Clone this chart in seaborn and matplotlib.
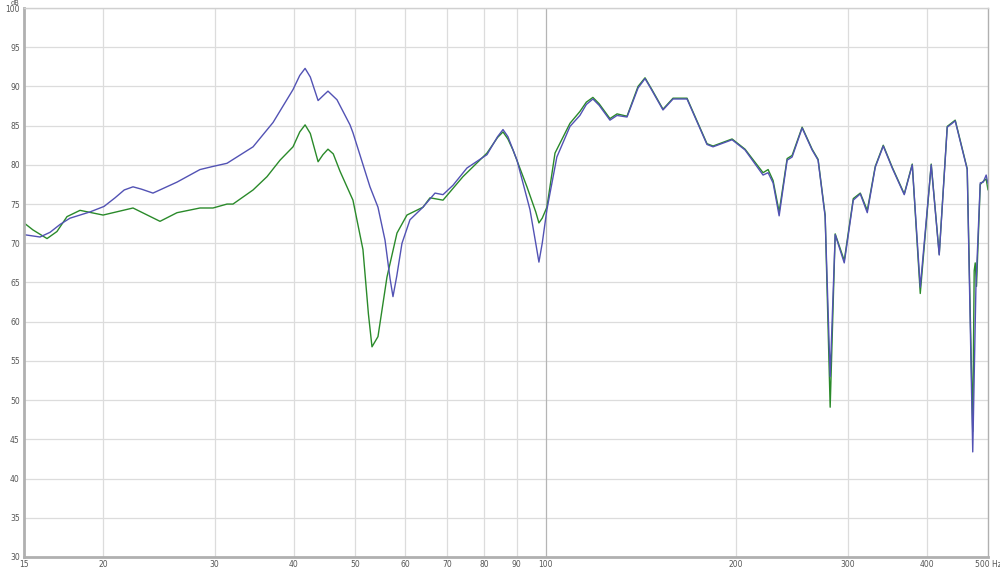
import numpy as np
import pandas as pd
import matplotlib
matplotlib.use("Agg")
import matplotlib.pyplot as plt
import seaborn as sns

# blue trace (Hz, dB)
blue_freq = [15.0, 15.9, 16.49, 17.10, 17.73, 19.07, 20.07, 20.89, 21.6, 22.30, 23.0, 23.98,
             26.17, 28.45, 29.83, 31.39, 34.51, 37.11, 39.91, 40.9, 41.70, 42.5, 43.72, 44.5, 45.32,
             46.83, 49.10, 49.63, 52.80, 54.36, 55.77, 56.8, 57.41, 58.2, 59.32, 61.07, 64.03,
             66.89, 68.87, 71.42, 75.14, 80.81, 84.0, 85.66, 87.2, 90.13, 94.49, 96.5, 97.62, 98.8, 100.5,
             104.2, 109.3, 113.3, 116.0, 118.8, 121.5, 126.4, 129.7, 134.5, 140.0, 143.6, 147.0, 153.3, 159.0,
             167.3, 179.9, 183.9, 197.1, 206.6, 220.6, 224.7, 228.8, 233.9, 240.8,
             245.2, 254.3, 263.7, 269.5, 276.5, 281.6, 286.8, 296.4, 306.3, 314.2,
             322.3, 331.8, 341.6, 352.9, 368.7, 379.6, 390.8, 406.7, 418.7, 431.1,
             443.8, 463.6, 473.0, 478.5, 486.1, 491.4, 496.7, 500.0]
blue_db = [71.1, 70.8, 71.4, 72.4, 73.2, 74.0, 74.7, 75.8, 76.8, 77.2, 76.9, 76.4,
           77.8, 79.4, 79.8, 80.2, 82.3, 85.4, 89.6, 91.4, 92.3, 91.2, 88.2, 88.8, 89.4,
           88.3, 85.1, 84.1, 77.2, 74.6, 70.4, 65.5, 63.2, 65.8, 70.0, 73.0, 74.6,
           76.4, 76.2, 77.4, 79.6, 81.3, 83.6, 84.5, 83.6, 80.6, 74.3, 70.0, 67.6, 70.0, 74.3,
           81.0, 84.9, 86.3, 87.7, 88.4, 87.6, 85.7, 86.3, 86.1, 89.8, 91.0, 89.6, 87.0, 88.4,
           88.4, 82.6, 82.3, 83.2, 81.9, 78.7, 79.0, 77.7, 73.5, 80.6,
           81.0, 84.7, 81.9, 80.6, 73.4, 53.0, 71.1, 67.5, 75.5, 76.3,
           73.9, 79.7, 82.4, 79.6, 76.2, 80.0, 64.4, 80.0, 68.5, 84.8,
           85.6, 79.4, 43.4, 64.4, 77.7, 77.8, 78.7, 77.6]

# green trace (Hz, dB)
green_freq = [15.0, 15.50, 16.31, 16.91, 17.54, 18.39, 20.0, 22.30, 24.60, 26.17,
              28.45, 29.83, 31.39, 32.08, 34.51, 36.31, 38.07, 39.91, 40.9, 41.70, 42.5, 43.72, 44.5,
              45.32, 46.2, 47.34, 49.63, 51.47, 52.5, 53.19, 54.36, 56.17, 58.25, 60.40, 64.03,
              65.69, 68.87, 74.06, 80.81, 84.0, 85.66, 87.2, 88.83, 93.46, 96.5, 97.62, 98.8, 100.5, 103.5,
              109.3, 113.3, 116.0, 118.8, 121.5, 126.4, 129.7, 134.5, 140.0, 143.6, 147.0, 153.3, 159.0, 167.3,
              179.9, 183.9, 197.1, 206.6, 220.6, 224.7, 228.8, 233.9, 240.8, 245.2,
              254.3, 263.7, 269.5, 276.5, 281.6, 286.8, 296.4, 306.3, 314.2, 322.3,
              331.8, 341.6, 352.9, 368.7, 379.6, 390.8, 406.7, 418.7, 431.1, 443.8,
              463.6, 473.0, 475.5, 477.3, 479.5, 486.1, 491.4, 496.7, 500.0]
green_db = [72.6, 71.7, 70.6, 71.5, 73.4, 74.2, 73.6, 74.5, 72.8, 73.9,
            74.5, 74.5, 75.0, 75.0, 76.8, 78.5, 80.6, 82.3, 84.2, 85.1, 84.0, 80.4, 81.3,
            82.0, 81.4, 79.2, 75.5, 69.2, 61.0, 56.8, 58.1, 65.7, 71.3, 73.6, 74.6,
            75.8, 75.5, 78.5, 81.5, 83.5, 84.2, 83.3, 81.9, 77.2, 74.0, 72.6, 73.2, 74.6, 81.5,
            85.3, 86.8, 88.0, 88.6, 87.8, 85.9, 86.5, 86.2, 90.0, 91.1, 89.7, 87.1, 88.5, 88.5,
            82.7, 82.4, 83.3, 82.0, 79.0, 79.4, 78.0, 74.0, 80.8, 81.2,
            84.8, 82.0, 80.7, 73.6, 49.1, 71.2, 67.8, 75.7, 76.4, 74.2,
            79.8, 82.5, 79.7, 76.3, 80.1, 63.6, 80.1, 68.6, 84.9, 85.7,
            79.5, 46.0, 66.5, 67.5, 64.5, 77.5, 77.9, 78.2, 76.8]

x_ticks = [15, 20, 30, 40, 50, 60, 70, 80, 90, 100, 200, 300, 400, 500]
x_labels = ["15", "20", "30", "40", "50", "60", "70", "80", "90", "100",
            "200", "300", "400", "500 Hz"]
y_ticks = list(range(30, 101, 5))

df = pd.concat([
    pd.DataFrame({"freq": green_freq, "db": green_db, "trace": "green"}),
    pd.DataFrame({"freq": blue_freq, "db": blue_db, "trace": "blue"}),
])

sns.set_style("white")
fig = plt.figure(figsize=(10, 5.68), dpi=100)
ax = fig.add_axes([0.024, 11 / 568, 0.964, 549 / 568])

sns.lineplot(data=df, x="freq", y="db", hue="trace", estimator=None, sort=False,
             palette={"green": "#2a8a2a", "blue": "#5252b4"}, linewidth=1.0,
             legend=False, ax=ax)

ax.set_xscale("log")
ax.set_xlim(15, 500)
ax.set_ylim(30, 100)
ax.set_xticks(x_ticks)
ax.set_xticklabels(x_labels)
ax.minorticks_off()
ax.set_yticks(y_ticks)
ax.set_xlabel("")
ax.set_ylabel("")

for y in y_ticks:
    ax.axhline(y, color="#dcdcdc", lw=0.9, zorder=0)
for x in x_ticks[1:-1]:
    ax.axvline(x, color="#b5b5b5" if x == 100 else "#dcdcdc", lw=0.9, zorder=0)

ax.tick_params(axis="both", length=0, labelsize=5.5, labelcolor="#555555")
ax.tick_params(axis="x", pad=2)
ax.tick_params(axis="y", pad=3)
for lab in ax.get_yticklabels():
    if lab.get_text() == "100":
        lab.set_verticalalignment("center_baseline")

for side in ["left", "bottom"]:
    ax.spines[side].set_color("#b0b0b0")
    ax.spines[side].set_linewidth(2)
ax.spines["right"].set_color("#b0b0b0")
ax.spines["right"].set_linewidth(1)
ax.spines["top"].set_color("#d0d0d0")
ax.spines["top"].set_linewidth(1)

fig.text(0.019, 1.0, "dB", fontsize=4.8, color="#555555",
         ha="right", va="top")

fig.savefig("out.png", dpi=100)
